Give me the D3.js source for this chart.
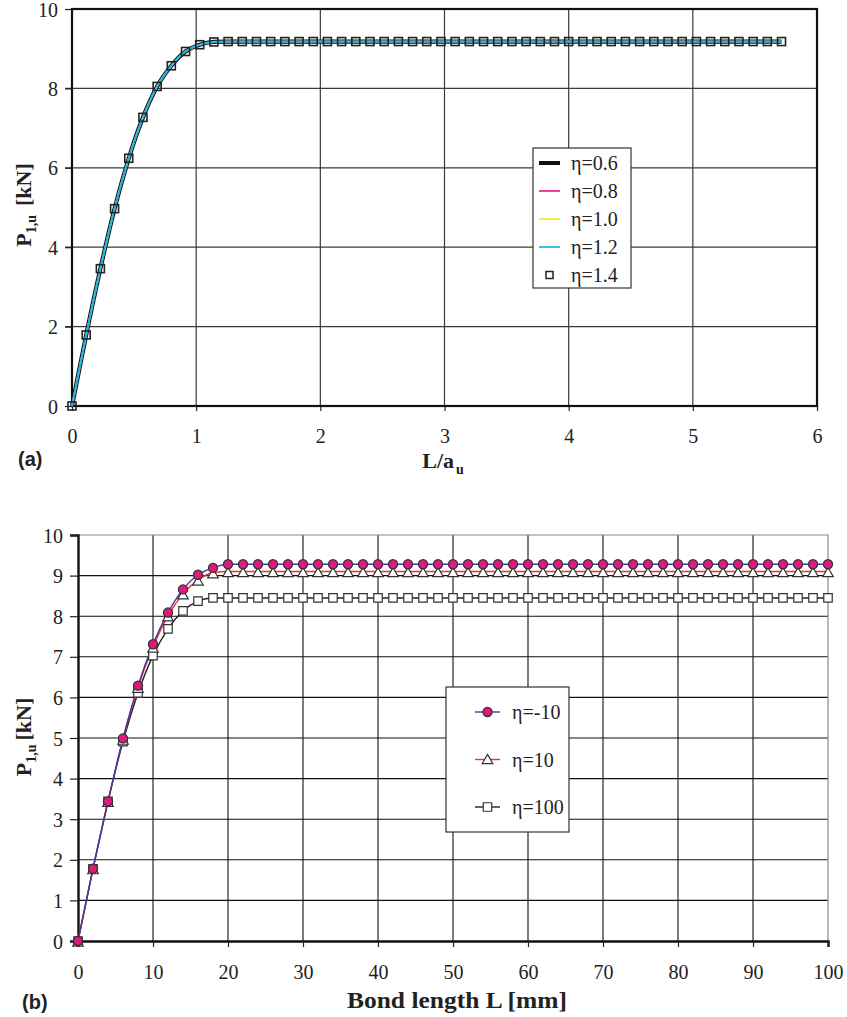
<!DOCTYPE html>
<html>
<head>
<meta charset="utf-8">
<script src="https://cdn.jsdelivr.net/npm/d3@7"></script>
<style>
  body { margin: 0; background: #fff; }
  text { font-family: "Liberation Serif", "Times New Roman", serif; fill: #222; }
  .panel { font-family: "Liberation Sans", Arial, sans-serif; font-weight: bold; }
</style>
</head>
<body>
<svg id="chart" width="847" height="1017"></svg>
<script>
// bond length L [mm] of every computed point (both panels)
var bondLength = [0, 2, 4, 6, 8, 10, 12, 14, 16, 18, 20, 22, 24, 26, 28, 30, 32, 34, 36, 38,
  40, 42, 44, 46, 48, 50, 52, 54, 56, 58, 60, 62, 64, 66, 68, 70, 72, 74, 76, 78,
  80, 82, 84, 86, 88, 90, 92, 94, 96, 98, 100];
// effective bond length a_u [mm] used for the normalised axis of panel (a)
var aU = 17.5;

// panel (a): P1,u [kN] (all five eta curves coincide)
var pTop = [0, 1.79, 3.46, 4.97, 6.24, 7.27, 8.05, 8.57, 8.93, 9.10, 9.17, 9.18, 9.18, 9.18, 9.18, 9.18, 9.18,
  9.18, 9.18, 9.18, 9.18, 9.18, 9.18, 9.18, 9.18, 9.18, 9.18, 9.18, 9.18, 9.18, 9.18, 9.18, 9.18, 9.18,
  9.18, 9.18, 9.18, 9.18, 9.18, 9.18, 9.18, 9.18, 9.18, 9.18, 9.18, 9.18, 9.18, 9.18, 9.18, 9.18, 9.18];
var topNames = ['η=0.6', 'η=0.8', 'η=1.0', 'η=1.2', 'η=1.4'];

// panel (b): P1,u [kN]
var pEtaM10 = [0, 1.78, 3.44, 4.99, 6.29, 7.31, 8.09, 8.66, 9.02, 9.19, 9.28, 9.28, 9.28, 9.28, 9.28, 9.28, 9.28,
  9.28, 9.28, 9.28, 9.28, 9.28, 9.28, 9.28, 9.28, 9.28, 9.28, 9.28, 9.28, 9.28, 9.28, 9.28, 9.28, 9.28,
  9.28, 9.28, 9.28, 9.28, 9.28, 9.28, 9.28, 9.28, 9.28, 9.28, 9.28, 9.28, 9.28, 9.28, 9.28, 9.28, 9.28];
var pEta10 = [0, 1.78, 3.44, 4.97, 6.25, 7.24, 8.01, 8.55, 8.89, 9.07, 9.10, 9.10, 9.10, 9.10, 9.10, 9.10, 9.10,
  9.10, 9.10, 9.10, 9.10, 9.10, 9.10, 9.10, 9.10, 9.10, 9.10, 9.10, 9.10, 9.10, 9.10, 9.10, 9.10, 9.10,
  9.10, 9.10, 9.10, 9.10, 9.10, 9.10, 9.10, 9.10, 9.10, 9.10, 9.10, 9.10, 9.10, 9.10, 9.10, 9.10, 9.10];
var pEta100 = [0, 1.78, 3.44, 4.91, 6.11, 7.03, 7.69, 8.13, 8.37, 8.45, 8.45, 8.45, 8.45, 8.45, 8.45, 8.45, 8.45,
  8.45, 8.45, 8.45, 8.45, 8.45, 8.45, 8.45, 8.45, 8.45, 8.45, 8.45, 8.45, 8.45, 8.45, 8.45, 8.45, 8.45,
  8.45, 8.45, 8.45, 8.45, 8.45, 8.45, 8.45, 8.45, 8.45, 8.45, 8.45, 8.45, 8.45, 8.45, 8.45, 8.45, 8.45];
var bottomNames = ['η=-10', 'η=10', 'η=100'];

var topXTicks = [0, 1, 2, 3, 4, 5, 6];
var topYTicks = [0, 2, 4, 6, 8, 10];
var botXTicks = [0, 10, 20, 30, 40, 50, 60, 70, 80, 90, 100];
var botYTicks = [0, 1, 2, 3, 4, 5, 6, 7, 8, 9, 10];

var svg = d3.select('#chart');

// ---------------- panel (a) ----------------
var xA = d3.scaleLinear().domain([0, 6]).range([72, 817]);
var yA = d3.scaleLinear().domain([0, 10]).range([406, 9]);
var gA = svg.append('g');

// grid
gA.append('g').selectAll('line').data(topXTicks.slice(1, -1)).enter().append('line')
  .attr('x1', function(d) { return xA(d); }).attr('x2', function(d) { return xA(d); })
  .attr('y1', yA(0)).attr('y2', yA(10))
  .attr('stroke', '#3a3a3a').attr('stroke-width', 1.2);
gA.append('g').selectAll('line').data(topYTicks.slice(1, -1)).enter().append('line')
  .attr('x1', xA(0) - 7).attr('x2', xA(6))
  .attr('y1', function(d) { return yA(d); }).attr('y2', function(d) { return yA(d); })
  .attr('stroke', '#3a3a3a').attr('stroke-width', 1.2);

// axes
var axA = gA.append('g').attr('transform', 'translate(0,' + yA(0) + ')')
  .call(d3.axisBottom(xA).tickValues(topXTicks).tickSize(5).tickPadding(18).tickFormat(d3.format('d')));
var ayA = gA.append('g').attr('transform', 'translate(' + xA(0) + ',0)')
  .call(d3.axisLeft(yA).tickValues(topYTicks).tickSize(7).tickPadding(7).tickFormat(d3.format('d')));
[axA, ayA].forEach(function(a) {
  a.select('.domain').remove();
  a.selectAll('line').attr('stroke', '#222').attr('stroke-width', 1.2);
  a.selectAll('text').style('font-size', '20px').attr('fill', '#222')
    .style('font-family', '"Liberation Serif", "Times New Roman", serif');
});
ayA.selectAll('text').attr('dy', '0.35em');

// frame
gA.append('rect').attr('x', xA(0)).attr('y', yA(10))
  .attr('width', xA(6) - xA(0)).attr('height', yA(0) - yA(10))
  .attr('fill', 'none').attr('stroke', '#111').attr('stroke-width', 2.2);

var topPoints = bondLength.map(function(L, i) { return [L / aU, pTop[i]]; });
var lineA = d3.line().x(function(d) { return xA(d[0]); }).y(function(d) { return yA(d[1]); })
  .curve(d3.curveMonotoneX);
var topStyles = [
  { color: '#111', width: 4.2 },
  { color: '#e8308a', width: 1.6 },
  { color: '#f5e83a', width: 1.6 },
  { color: '#27b4e0', width: 2.2 }
];
topStyles.forEach(function(s) {
  gA.append('path').datum(topPoints).attr('d', lineA)
    .attr('fill', 'none').attr('stroke', s.color).attr('stroke-width', s.width);
});
gA.append('g').selectAll('rect').data(topPoints).enter().append('rect')
  .attr('x', function(d) { return xA(d[0]) - 4; }).attr('y', function(d) { return yA(d[1]) - 4; })
  .attr('width', 8).attr('height', 8)
  .attr('fill', 'none').attr('stroke', '#222').attr('stroke-width', 1.6);

// legend (a)
var legA = gA.append('g').attr('transform', 'translate(533,148)');
legA.append('rect').attr('width', 98).attr('height', 140)
  .attr('fill', '#fff').attr('stroke', '#333').attr('stroke-width', 1.2);
topNames.forEach(function(name, i) {
  var ly = 15 + i * 28;
  if (i < 4) {
    legA.append('line').attr('x1', 6).attr('x2', 27).attr('y1', ly).attr('y2', ly)
      .attr('stroke', topStyles[i].color).attr('stroke-width', i === 0 ? 4 : 1.8);
  } else {
    legA.append('rect').attr('x', 13).attr('y', ly - 3.5).attr('width', 7).attr('height', 7)
      .attr('fill', 'none').attr('stroke', '#222').attr('stroke-width', 1.5);
  }
  legA.append('text').attr('x', 38).attr('y', ly).attr('dy', '0.35em')
    .style('font-size', '20px').text(name);
});

// labels (a)
var ylA = gA.append('text').attr('transform', 'translate(31,205) rotate(-90)')
  .attr('text-anchor', 'middle').style('font-size', '22px').style('font-weight', 'bold');
ylA.append('tspan').text('P');
ylA.append('tspan').attr('dy', 5).style('font-size', '14px').text('1,u');
ylA.append('tspan').attr('dy', -5).attr('dx', 9).text('[kN]');
var xlA = gA.append('text').attr('x', 443).attr('y', 468)
  .attr('text-anchor', 'middle').style('font-size', '22px').style('font-weight', 'bold');
xlA.append('tspan').text('L/a');
xlA.append('tspan').attr('dy', 6).attr('dx', 2).style('font-size', '14px').text('u');
gA.append('text').attr('class', 'panel').attr('x', 18).attr('y', 466)
  .style('font-size', '20px').text('(a)');

// ---------------- panel (b) ----------------
var xB = d3.scaleLinear().domain([0, 100]).range([78, 828]);
var yB = d3.scaleLinear().domain([0, 10]).range([941, 535]);
var gB = svg.append('g');

gB.append('g').selectAll('line').data(botXTicks.slice(1, -1)).enter().append('line')
  .attr('x1', function(d) { return xB(d); }).attr('x2', function(d) { return xB(d); })
  .attr('y1', yB(0)).attr('y2', yB(10))
  .attr('stroke', '#111').attr('stroke-width', 1.1);
gB.append('g').selectAll('line').data(botYTicks.slice(1, -1)).enter().append('line')
  .attr('x1', xB(0)).attr('x2', xB(100))
  .attr('y1', function(d) { return yB(d); }).attr('y2', function(d) { return yB(d); })
  .attr('stroke', '#111').attr('stroke-width', 1.1);
// light frame top / right
gB.append('path')
  .attr('d', 'M' + xB(0) + ',' + yB(10) + 'H' + xB(100) + 'V' + yB(0))
  .attr('fill', 'none').attr('stroke', '#888').attr('stroke-width', 1.2);

var axB = gB.append('g').attr('transform', 'translate(0,' + yB(0) + ')')
  .call(d3.axisBottom(xB).tickValues(botXTicks).tickSize(6).tickPadding(18).tickFormat(d3.format('d')));
var ayB = gB.append('g').attr('transform', 'translate(' + xB(0) + ',0)')
  .call(d3.axisLeft(yB).tickValues(botYTicks).tickSize(8).tickPadding(7).tickFormat(d3.format('d')));
[axB, ayB].forEach(function(a) {
  a.select('.domain').attr('stroke', '#111').attr('stroke-width', 2.4);
  a.selectAll('.tick line').attr('stroke', '#222').attr('stroke-width', 1.2);
  a.selectAll('text').style('font-size', '20px').attr('fill', '#222')
    .style('font-family', '"Liberation Serif", "Times New Roman", serif');
});
ayB.selectAll('text').attr('dy', '0.35em');

var lineB = d3.line().x(function(d) { return xB(d[0]); }).y(function(d) { return yB(d[1]); })
  .curve(d3.curveMonotoneX);
var botSeries = [
  { values: pEta100, color: '#222', marker: 'square' },
  { values: pEta10, color: '#f03232', marker: 'triangle' },
  { values: pEtaM10, color: '#3a3aa6', marker: 'circle' }
];
var sym = {
  square: d3.symbol().type(d3.symbolSquare).size(72),
  triangle: d3.symbol().type(d3.symbolTriangle).size(48),
  circle: d3.symbol().type(d3.symbolCircle).size(66)
};
var markerFill = { square: '#fff', triangle: '#fff', circle: '#e0197d' };

botSeries.forEach(function(s) {
  var pts = bondLength.map(function(L, i) { return [L, s.values[i]]; });
  gB.append('path').datum(pts).attr('d', lineB)
    .attr('fill', 'none').attr('stroke', s.color).attr('stroke-width', 1.4);
  s.pts = pts;
});
botSeries.forEach(function(s) {
  gB.append('g').selectAll('path').data(s.pts).enter().append('path')
    .attr('d', sym[s.marker])
    .attr('transform', function(d) {
      var dy = s.marker === 'triangle' ? 2 : 0;
      return 'translate(' + xB(d[0]) + ',' + (yB(d[1]) + dy) + ')';
    })
    .attr('fill', markerFill[s.marker]).attr('stroke', '#333').attr('stroke-width', 1.2);
});

// legend (b)
var legB = gB.append('g').attr('transform', 'translate(446,687)');
legB.append('rect').attr('width', 123).attr('height', 145)
  .attr('fill', '#fff').attr('stroke', '#333').attr('stroke-width', 1.2);
var legOrder = [botSeries[2], botSeries[1], botSeries[0]];
legOrder.forEach(function(s, i) {
  var ly = 25 + i * 47.5;
  legB.append('line').attr('x1', 29).attr('x2', 54).attr('y1', ly).attr('y2', ly)
    .attr('stroke', s.color).attr('stroke-width', 1.4);
  legB.append('path').attr('d', sym[s.marker])
    .attr('transform', 'translate(41.5,' + (ly + (s.marker === 'triangle' ? 1 : 0)) + ')')
    .attr('fill', markerFill[s.marker]).attr('stroke', '#333').attr('stroke-width', 1.2);
  legB.append('text').attr('x', 66).attr('y', ly).attr('dy', '0.35em')
    .style('font-size', '20px').text(bottomNames[i]);
});

// labels (b)
var ylB = gB.append('text').attr('transform', 'translate(31,737) rotate(-90)')
  .attr('text-anchor', 'middle').style('font-size', '22px').style('font-weight', 'bold');
ylB.append('tspan').text('P');
ylB.append('tspan').attr('dy', 5).style('font-size', '14px').text('1,u');
ylB.append('tspan').attr('dy', -5).attr('dx', 4).text('[kN]');
gB.append('text').attr('x', 457).attr('y', 1008).attr('text-anchor', 'middle')
  .style('font-size', '24px').style('font-weight', 'bold')
  .attr('textLength', 220).attr('lengthAdjust', 'spacingAndGlyphs')
  .text('Bond length L [mm]');
gB.append('text').attr('class', 'panel').attr('x', 22).attr('y', 1009)
  .style('font-size', '20px').text('(b)');
</script>
</body>
</html>
